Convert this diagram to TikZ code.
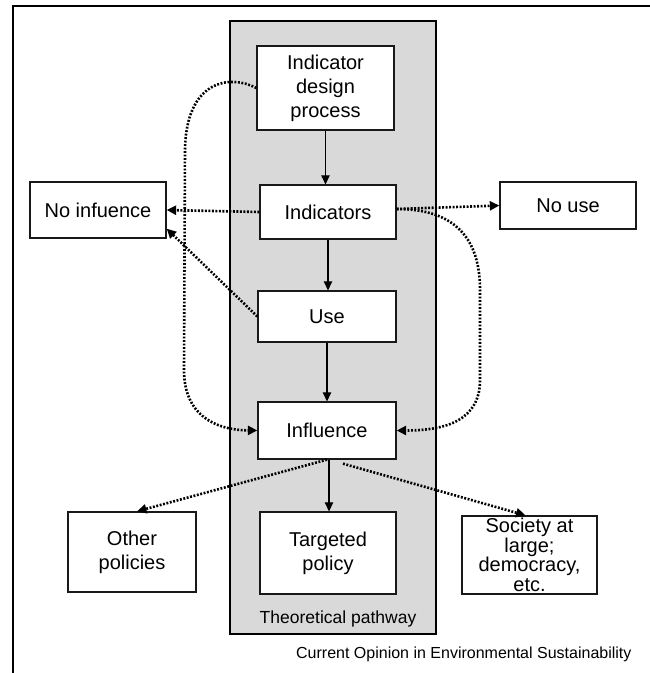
\documentclass[tikz,border=0pt]{standalone}
\usepackage{fontspec}
\setmainfont{Liberation Sans}
\usetikzlibrary{arrows.meta}
\begin{document}
\begin{tikzpicture}[x=1pt,y=-1pt,
  box/.style={draw=black!90, line width=1.3pt, fill=white, align=center, inner sep=0pt, font=\fontsize{20}{24}\selectfont},
  solidarrow/.style={line width=1.1pt, -{Triangle[length=9pt,width=8.5pt]}},
  dotline/.style={line width=2.6pt, dash pattern=on 1.9pt off 1.6pt},
  dotarrow/.style={dotline, -{Triangle[length=9.5pt,width=9pt]}}]
\useasboundingbox (0,0) rectangle (650,673);
\draw[line width=1.3pt] (650,6) -- (13,6) -- (13,673);
\node[draw, line width=2pt, fill=black!15, minimum width=206pt, minimum height=613pt, inner sep=0pt] (pathbox) at (333,327.5) {};
\node[font=\fontsize{17.5}{20}\selectfont] (tp) at (338,619) {Theoretical pathway};
\node[anchor=east, font=\fontsize{16}{18}\selectfont] (cap) at (635,654) {Current Opinion in Environmental Sustainability};

\node[box, minimum width=137pt, minimum height=84pt] (design) at (325.5,88) {Indicator\\design\\process};
\node[box, minimum width=136pt, minimum height=54pt] (ind) at (328,212) {Indicators};
\node[box, minimum width=138pt, minimum height=51pt] (use) at (327,316.5) {Use};
\node[box, minimum width=138pt, minimum height=57pt] (infl) at (327,430.5) {Influence};
\node[box, minimum width=136pt, minimum height=82pt] (targ) at (328,553) {Targeted\\policy};
\node[box, minimum width=128pt, minimum height=80pt] (other) at (132,552) {Other\\policies};
\node[box, minimum width=135pt, minimum height=78pt, font=\fontsize{20}{19.5}\selectfont] (soc) at (529.5,555) {Society at\\large;\\democracy,\\etc.};
\node[box, minimum width=136pt, minimum height=56pt] (noinf) at (98,210) {No infuence};
\node[box, minimum width=136pt, minimum height=47pt] (nouse) at (568,205.5) {No use};

% solid pathway
\draw[solidarrow] (design.south) -- (design.south |- ind.north);
\draw[solidarrow] (ind.south) -- (ind.south |- use.north);
\draw[solidarrow] (use.south) -- (use.south |- infl.north);
\draw[solidarrow] ([xshift=2pt]infl.south) -- ([xshift=2pt]infl.south |- targ.north);

% dotted connectors
\draw[dotarrow] (ind.west) -- (noinf.east);
\draw[dotarrow] (use.west) -- ([yshift=10pt]noinf.south east);
\draw[dotarrow] ([yshift=3pt]ind.east) -- (nouse.west);
\draw[dotarrow] ([yshift=3pt]ind.east) .. controls +(60,0) and +(0,-50) .. (480,290) -- (480,380) .. controls +(0,40) and +(50,0) .. (infl.east);
\draw[dotarrow] (design.west) .. controls (230,74) and (186,80) .. (185,150) -- (184,370) .. controls (184,415) and (215,430) .. (infl.west);
\draw[dotarrow] (infl.south) -- ([xshift=5pt]other.north);
\draw[dotarrow] ([xshift=16pt,yshift=-4pt]infl.south) -- ([xshift=-4pt]soc.north);
\end{tikzpicture}
\end{document}
